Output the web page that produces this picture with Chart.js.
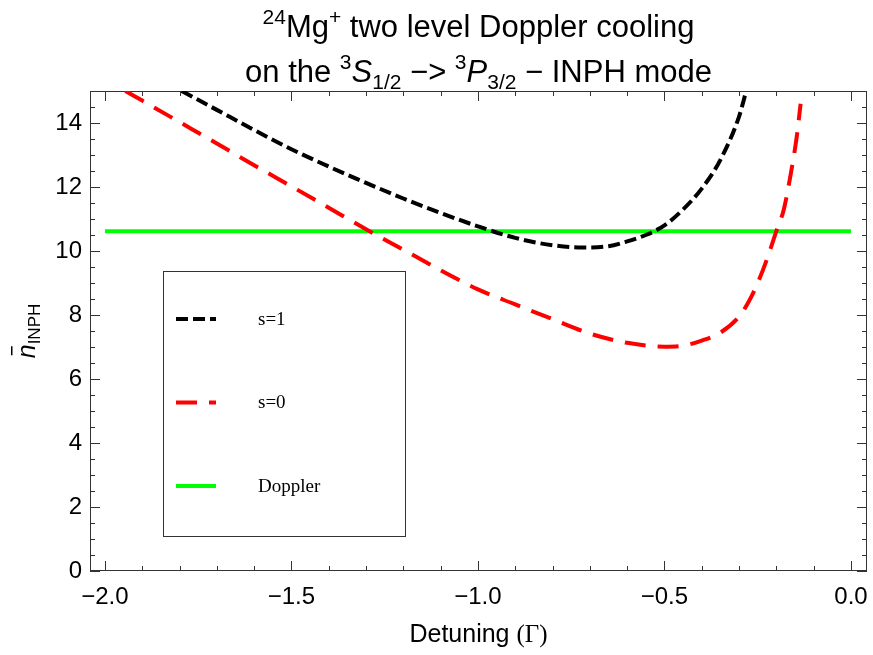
<!DOCTYPE html>
<html>
<head>
<meta charset="utf-8">
<script src="https://cdn.jsdelivr.net/npm/chart.js@4/dist/chart.umd.min.js"></script>
<style>
    body { margin: 0; background: #fff; }
    #wrap { width: 873px; height: 655px; }
</style>
</head>
<body>
<div id="wrap"><canvas id="coolingChart" width="873" height="655"></canvas></div>
<script>
// detuning (in units of Gamma) and mean phonon number
const detuningS1 = [-1.794, -1.7, -1.6, -1.5, -1.4, -1.3, -1.2, -1.1, -1.0, -0.9, -0.8, -0.72, -0.65, -0.6, -0.55, -0.5, -0.45, -0.4, -0.35, -0.3, -0.282];
const nbarS1 = [15.0, 14.41, 13.78, 13.18, 12.64, 12.13, 11.64, 11.19, 10.77, 10.41, 10.18, 10.11, 10.15, 10.3, 10.5, 10.8, 11.3, 11.95, 12.85, 14.2, 14.95];

const detuningS0 = [-1.945, -1.9, -1.8, -1.7, -1.6, -1.5, -1.4, -1.3, -1.2, -1.1, -1.0, -0.9, -0.8, -0.7, -0.6, -0.5, -0.45, -0.4, -0.35, -0.3, -0.275, -0.25, -0.225, -0.2, -0.18, -0.16, -0.145, -0.135];
const nbarS0 = [15.0, 14.7, 14.03, 13.36, 12.68, 12.02, 11.35, 10.68, 10.04, 9.4, 8.8, 8.33, 7.87, 7.42, 7.13, 7.01, 7.04, 7.2, 7.45, 7.95, 8.4, 9.0, 9.75, 10.62, 11.3, 12.5, 13.6, 14.6];

const detuningDoppler = [-2.0, 0.0];
const nbarDoppler = [10.62, 10.62];

const xTickValues = [-2.0, -1.5, -1.0, -0.5, 0.0];
const yTickValues = [0, 2, 4, 6, 8, 10, 12, 14];

const legendLabels = ['s=1', 's=0', 'Doppler'];

const SANS = '"Liberation Sans", Arial, sans-serif';
const SERIF = '"Liberation Serif", "Times New Roman", serif';

function toPoints(xs, ys) {
    return xs.map((x, i) => ({ x: x, y: ys[i] }));
}

function fmtX(v) {
    return (v < 0 ? '\u2212' : '') + Math.abs(v).toFixed(1);
}

// draw a line of text made of plain / sup / sub / italic pieces, centred on cx
function drawRich(ctx, segs, cx, y, size) {
    let total = 0;
    segs.forEach(s => {
        const sz = (s.sup || s.sub) ? Math.round(size * 0.68) : size;
        s.font = (s.it ? 'italic ' : '') + sz + 'px ' + (s.serif ? SERIF : SANS);
        ctx.font = s.font;
        s.w = ctx.measureText(s.t).width;
        total += s.w;
    });
    let x = cx - total / 2;
    segs.forEach(s => {
        ctx.font = s.font;
        let dy = 0;
        if (s.sup) dy = -size * 0.42;
        if (s.sub) dy = size * 0.24;
        ctx.fillText(s.t, x, y + dy);
        x += s.w;
    });
}

const titlePlugin = {
    id: 'richTitle',
    afterDraw(chart) {
        const ctx = chart.ctx;
        const a = chart.chartArea;
        const cx = (a.left + a.right) / 2;
        ctx.save();
        ctx.fillStyle = '#000';
        ctx.textBaseline = 'alphabetic';
        ctx.textAlign = 'left';
        drawRich(ctx, [
            { t: '24', sup: true }, { t: 'Mg' }, { t: '+', sup: true },
            { t: ' two level Doppler cooling' }
        ], cx, 37, 31);
        drawRich(ctx, [
            { t: 'on the ' }, { t: '3', sup: true }, { t: 'S', it: true }, { t: '1/2', sub: true },
            { t: ' \u2212> ' }, { t: '3', sup: true }, { t: 'P', it: true }, { t: '3/2', sub: true },
            { t: ' \u2212 INPH mode' }
        ], cx, 82, 31);

        // x axis title, Gamma in a serif face
        drawRich(ctx, [{ t: 'Detuning ' }, { t: '(\u0393)', serif: true }], cx, 642, 25);

        // y axis title: n-bar with INPH subscript, rotated
        ctx.translate(35, (a.top + a.bottom) / 2);
        ctx.rotate(-Math.PI / 2);
        ctx.font = 'italic 25px ' + SANS;
        const wn = ctx.measureText('n').width;
        ctx.font = '17px ' + SANS;
        const ws = ctx.measureText('INPH').width;
        const x0 = -(wn + ws) / 2;
        ctx.font = 'italic 25px ' + SANS;
        ctx.fillText('n', x0, 0);
        ctx.fillRect(x0 + 3, -24, 9, 1.5);
        ctx.font = '17px ' + SANS;
        ctx.fillText('INPH', x0 + wn, 5);
        ctx.restore();
    }
};

const framePlugin = {
    id: 'frameTicks',
    beforeDatasetsDraw(chart) {
        const ctx = chart.ctx;
        const a = chart.chartArea;
        const xs = chart.scales.x;
        const ys = chart.scales.y;
        ctx.save();
        ctx.strokeStyle = '#333';
        ctx.lineWidth = 1;
        ctx.strokeRect(a.left + 0.5, a.top + 0.5, a.right - a.left - 1, a.bottom - a.top - 1);
        ctx.beginPath();
        for (let i = -20; i <= 0; i++) {
            const v = i / 10;
            const len = (i % 5 === 0) ? 10 : 5;
            const px = Math.round(xs.getPixelForValue(v)) + 0.5;
            ctx.moveTo(px, a.bottom); ctx.lineTo(px, a.bottom - len);
            ctx.moveTo(px, a.top); ctx.lineTo(px, a.top + len);
        }
        for (let i = 0; i <= 30; i++) {
            const v = i / 2;
            const len = (i % 4 === 0) ? 10 : 5;
            const py = Math.round(ys.getPixelForValue(v)) + 0.5;
            ctx.moveTo(a.left, py); ctx.lineTo(a.left + len, py);
            ctx.moveTo(a.right, py); ctx.lineTo(a.right - len, py);
        }
        ctx.stroke();
        ctx.restore();
    }
};

const legendPlugin = {
    id: 'boxLegend',
    afterDatasetsDraw(chart) {
        const ctx = chart.ctx;
        const a = chart.chartArea;
        const bx = a.left + 73, by = a.top + 180, bw = 242, bh = 265;
        ctx.save();
        ctx.fillStyle = '#fff';
        ctx.fillRect(bx, by, bw, bh);
        ctx.strokeStyle = '#333';
        ctx.lineWidth = 1;
        ctx.strokeRect(bx + 0.5, by + 0.5, bw, bh);
        chart.data.datasets.forEach((ds, i) => {
            const y = by + 48 + i * 83.5;
            ctx.strokeStyle = ds.borderColor;
            ctx.lineWidth = ds.borderWidth;
            ctx.setLineDash(ds.borderDash || []);
            ctx.beginPath();
            ctx.moveTo(bx + 13, y);
            ctx.lineTo(bx + 53, y);
            ctx.stroke();
            ctx.setLineDash([]);
            ctx.fillStyle = '#000';
            ctx.font = '19px ' + SERIF;
            ctx.textBaseline = 'middle';
            ctx.fillText(legendLabels[i], bx + 95, y + 1);
        });
        ctx.restore();
    }
};

document.addEventListener('DOMContentLoaded', function() {
    const ctx = document.getElementById('coolingChart').getContext('2d');
    Chart.defaults.font.family = SANS;
    Chart.defaults.color = '#000';

    new Chart(ctx, {
        type: 'line',
        data: {
            datasets: [{
                label: legendLabels[0],
                data: toPoints(detuningS1, nbarS1),
                borderColor: '#000000',
                borderWidth: 4,
                borderDash: [12, 5],
                cubicInterpolationMode: 'monotone',
                pointRadius: 0,
                fill: false
            }, {
                label: legendLabels[1],
                data: toPoints(detuningS0, nbarS0),
                borderColor: '#ff0000',
                borderWidth: 4,
                borderDash: [21, 12],
                cubicInterpolationMode: 'monotone',
                pointRadius: 0,
                fill: false
            }, {
                label: legendLabels[2],
                data: toPoints(detuningDoppler, nbarDoppler),
                borderColor: '#00ff00',
                borderWidth: 4,
                pointRadius: 0,
                fill: false
            }]
        },
        options: {
            responsive: false,
            animation: false,
            layout: { padding: { top: 91, right: 6, left: 0, bottom: 0 } },
            plugins: {
                legend: { display: false },
                title: { display: false },
                tooltip: { enabled: false }
            },
            scales: {
                x: {
                    type: 'linear',
                    min: -2.040,
                    max: 0.043,
                    grid: { display: false, drawTicks: false },
                    border: { display: false },
                    afterBuildTicks: scale => { scale.ticks = xTickValues.map(v => ({ value: v })); },
                    afterFit: scale => {
                        scale.height = 84;
                        scale.paddingLeft = 0;
                        scale.paddingRight = 0;
                    },
                    ticks: {
                        font: { size: 24 },
                        padding: 12,
                        maxRotation: 0,
                        callback: v => fmtX(v)
                    }
                },
                y: {
                    type: 'linear',
                    min: 0,
                    max: 15,
                    grid: { display: false, drawTicks: false },
                    border: { display: false },
                    afterBuildTicks: scale => { scale.ticks = yTickValues.map(v => ({ value: v })); },
                    afterFit: scale => {
                        scale.width = 90;
                        scale.paddingTop = 0;
                        scale.paddingBottom = 0;
                    },
                    ticks: {
                        font: { size: 24 },
                        padding: 8
                    }
                }
            }
        },
        plugins: [framePlugin, legendPlugin, titlePlugin]
    });
});
</script>
</body>
</html>
